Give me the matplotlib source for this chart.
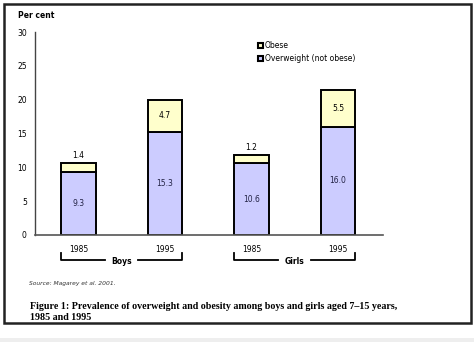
import matplotlib.pyplot as plt
from matplotlib.patches import Rectangle, Patch

# Prevalence (%) among children aged 7-15
years = ['1985', '1995', '1985', '1995']
groups = ['Boys', 'Girls']
overweight = [9.3, 15.3, 10.6, 16.0]
obese = [1.4, 4.7, 1.2, 5.5]

blue = '#ccccff'
yellow = '#ffffcc'

fig = plt.figure(figsize=(4.74, 3.42), dpi=100)
ax = fig.add_axes([0.074, 0.313, 0.734, 0.593])

x = range(len(years))
w = 0.40
ax.bar(x, overweight, w, color=blue, edgecolor='black', linewidth=1.4)
ax.bar(x, obese, w, bottom=overweight, color=yellow, edgecolor='black', linewidth=1.4)

for i in x:
    ax.text(i, overweight[i] / 2, f'{overweight[i]:.1f}', ha='center', va='center',
            fontsize=5.5, color='#222244')
    top = overweight[i] + obese[i]
    if obese[i] < 2:
        ax.text(i, top + 0.4, f'{obese[i]:.1f}', ha='center', va='bottom', fontsize=5.5)
    else:
        ax.text(i, overweight[i] + obese[i] / 2, f'{obese[i]:.1f}', ha='center',
                va='center', fontsize=5.5)

ax.set_xlim(-0.5, 3.52)
ax.set_ylim(0, 30)
ax.set_yticks(range(0, 31, 5))
ax.tick_params(axis='y', length=0, labelsize=5.5, pad=6)
ax.set_xticks(list(x))
ax.set_xticklabels(years)
ax.tick_params(axis='x', length=0, labelsize=5.5, pad=7)
for s in ['top', 'right']:
    ax.spines[s].set_visible(False)
ax.spines['left'].set_color('#444444')
ax.spines['bottom'].set_color('#555555')
ax.spines['left'].set_linewidth(1.0)
ax.spines['bottom'].set_linewidth(1.2)

ax.text(-0.05, 1.08, 'Per cent', transform=ax.transAxes, fontsize=5.5,
        fontweight='bold', ha='left', va='center')

# Bracket under each pair of years
for k, g in enumerate(groups):
    a, b = 2 * k - w / 2, 2 * k + 1 + w / 2
    mid = (a + b) / 2
    yb = -3.7
    ax.plot([a, a, mid - 0.19], [yb + 1.05, yb, yb], color='black', lw=1.3,
            clip_on=False)
    ax.plot([mid + 0.19, b, b], [yb, yb, yb + 1.05], color='black', lw=1.3,
            clip_on=False)
    ax.text(mid, yb - 0.3, g, ha='center', va='center', fontsize=5.5,
            fontweight='bold')

handles = [Patch(facecolor=yellow, edgecolor='black', linewidth=1.5),
           Patch(facecolor=blue, edgecolor='black', linewidth=1.5)]
ax.legend(handles, ['Obese', 'Overweight (not obese)'], loc='upper left',
          bbox_to_anchor=(0.62, 0.99), frameon=False, fontsize=5.5,
          handlelength=0.7, handleheight=0.7, handletextpad=0.2,
          labelspacing=0.5)

fig.text(29 / 474, 1 - 284 / 342, 'Source: Magarey et al. 2001.', fontsize=4.3,
         style='italic', color='#333333', va='center')
fig.text(30 / 474, 1 - 312 / 342,
         'Figure 1: Prevalence of overweight and obesity among boys and girls aged 7\u201315 years,\n1985 and 1995',
         fontsize=7.2, fontweight='bold', family='Liberation Serif', va='center',
         linespacing=1.2)

fig.patches.append(Rectangle((4 / 474, 1 - 323 / 342), 467 / 474, 319 / 342,
                             transform=fig.transFigure, fill=False,
                             edgecolor='#222222', linewidth=1.8))
fig.patches.append(Rectangle((0, 0), 1, 4 / 342, transform=fig.transFigure,
                             facecolor='#eeeeee', edgecolor='none'))

fig.savefig('out.png', dpi=100)
